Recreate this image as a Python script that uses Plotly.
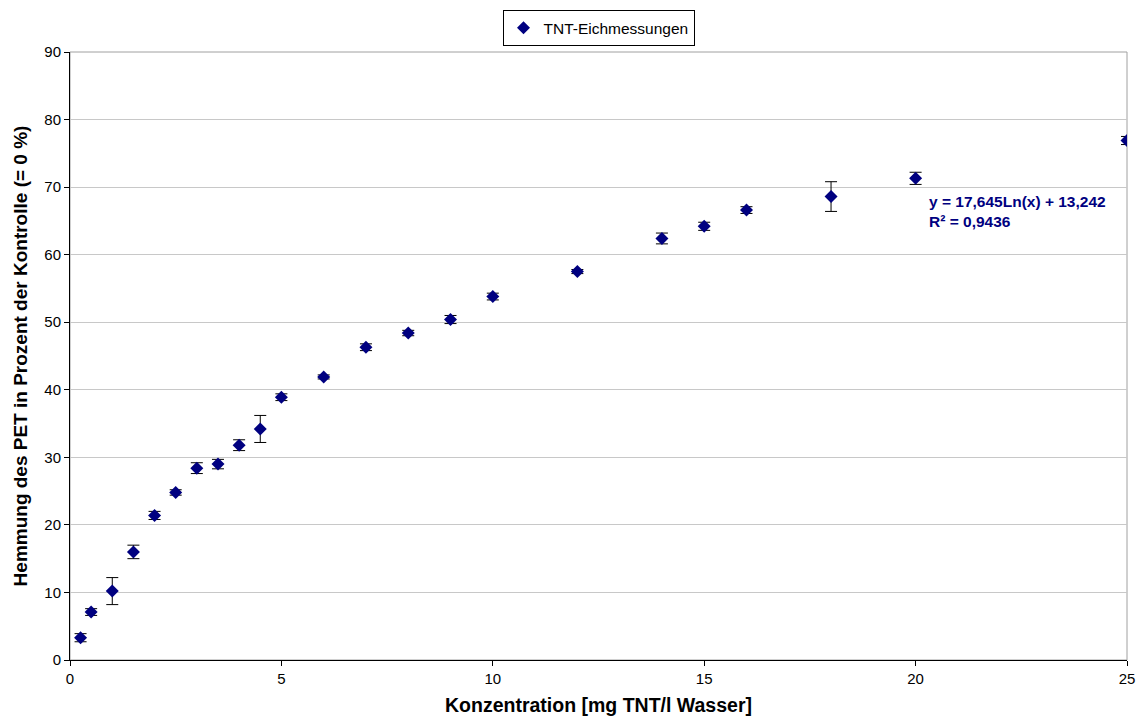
import plotly.graph_objects as go

conc = [0.25, 0.5, 1, 1.5, 2, 2.5, 3, 3.5, 4, 4.5, 5, 6, 7, 8, 9, 10, 12, 14, 15, 16, 18, 20, 25]
hemmung = [3.3, 7.1, 10.2, 16.0, 21.4, 24.8, 28.4, 29.0, 31.8, 34.2, 38.9, 41.9, 46.3, 48.4, 50.4, 53.8, 57.5, 62.4, 64.2, 66.6, 68.6, 71.3, 76.9]
fehler = [0.6, 0.5, 2.0, 1.0, 0.6, 0.4, 0.8, 0.7, 0.8, 2.0, 0.5, 0.3, 0.5, 0.4, 0.6, 0.5, 0.3, 0.8, 0.6, 0.5, 2.2, 0.9, 0.6]
x_ticks = [0, 5, 10, 15, 20, 25]
y_ticks = [0, 10, 20, 30, 40, 50, 60, 70, 80, 90]

FONT = "Liberation Sans, Arial, sans-serif"

fig = go.Figure()
fig.add_trace(go.Scatter(
    x=conc, y=hemmung, mode="markers", name="TNT-Eichmessungen",
    marker=dict(symbol="diamond", size=10, color="#000080"),
    error_y=dict(type="data", array=fehler, visible=True, color="black", thickness=1, width=6),
))

fig.update_layout(
    width=1145, height=722,
    margin=dict(l=62, r=26, t=44, b=70, autoexpand=False),
    paper_bgcolor="white", plot_bgcolor="white",
    font=dict(family=FONT, size=14, color="black"),
    showlegend=True,
    legend=dict(x=0.5, y=0.997, xref="paper", yref="container", xanchor="center", yanchor="top",
                orientation="h", bordercolor="black", borderwidth=1, bgcolor="white",
                font=dict(size=15.5), itemwidth=30),
    xaxis=dict(range=[0, 25], tickvals=x_ticks, showgrid=False, zeroline=False,
               showline=True, linecolor="black", linewidth=1, ticks="outside", ticklen=5,
               tickcolor="black", tickfont=dict(size=15),
               title=dict(text="<b>Konzentration [mg TNT/l Wasser]</b>", font=dict(size=19.5), standoff=12)),
    yaxis=dict(range=[0, 90], tickvals=y_ticks, showgrid=True, gridcolor="#c8c8c8", gridwidth=1,
               zeroline=False, showline=True, linecolor="black", linewidth=1, ticks="outside",
               ticklen=5, tickcolor="black", tickfont=dict(size=15),
               title=dict(text="<b>Hemmung des PET in Prozent der Kontrolle (= 0 %)</b>", font=dict(size=19), standoff=11)),
    annotations=[dict(
        x=20.27, y=69.4, xref="x", yref="y", xanchor="left", yanchor="top", align="left",
        text="<b>y = 17,645Ln(x) + 13,242<br>R² = 0,9436</b>", showarrow=False,
        font=dict(size=15.5, color="#000080", family=FONT),
    )],
    shapes=[dict(type="rect", xref="paper", yref="paper", x0=0, x1=1, y0=0, y1=1,
                 line=dict(color="#a0a0a0", width=1), layer="below")],
)

fig.write_html("out.html")
